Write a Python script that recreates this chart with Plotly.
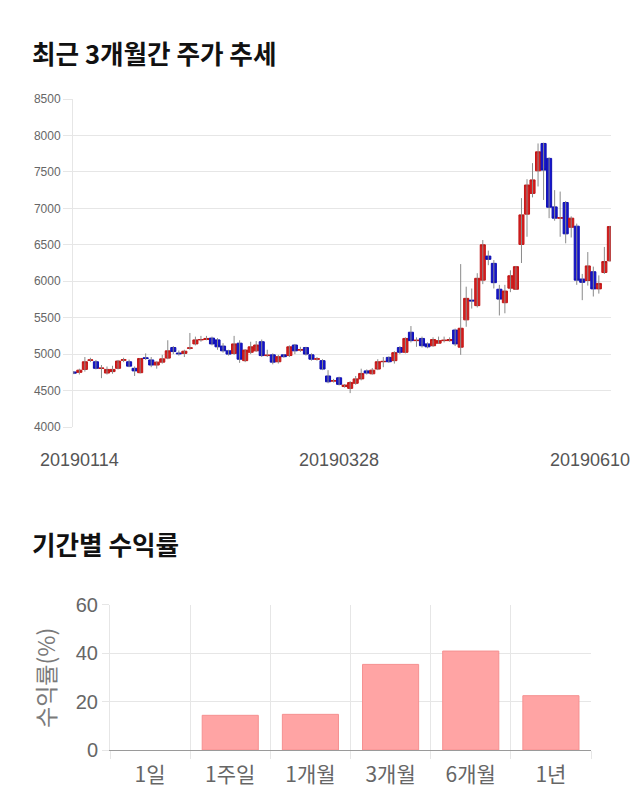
import plotly.graph_objects as go

# ---------------- data ----------------
TICK_LABELS = ["20190114", "20190328", "20190610"]
TICK_INDEX = [0, 48, 97]

OPEN = [4755, 4750, 4790, 4915, 4895, 4803, 4740, 4760, 4805, 4917, 4895, 4805, 4745, 4950, 4920, 4850, 4890, 4945, 5090, 5015,
        5010, 5080, 5140, 5195, 5200, 5220, 5195, 5110, 5045, 5010, 5150, 4910, 5025, 5045, 5170, 4980, 4990, 4895, 4990, 4980,
        5125, 5055, 5090, 4990, 4930, 4910, 4700, 4630, 4675, 4555, 4530, 4600, 4660, 4770, 4730, 4795, 4895, 4955, 4910, 5090,
        5025, 5300, 5185, 5215, 5140, 5115, 5150, 5185, 5185, 5330, 5095, 5470, 5740, 5665, 6015, 6345, 6245, 5890, 5705, 5905,
        5890, 6505, 6920, 7205, 7515, 7890, 7685, 7020, 6865, 7080, 6740, 6755, 6030, 6010, 6130, 5895, 6120, 6280]
CLOSE = [4740, 4780, 4895, 4920, 4805, 4808, 4790, 4790, 4905, 4922, 4835, 4770, 4940, 4940, 4850, 4890, 4935, 5045, 5035, 5005,
         5040, 5085, 5195, 5200, 5215, 5140, 5100, 5045, 5000, 5140, 4930, 5055, 5100, 5125, 4980, 4985, 4890, 4965, 4965, 5100,
         5045, 5060, 5000, 4930, 4935, 4795, 4620, 4635, 4585, 4575, 4610, 4660, 4735, 4740, 4780, 4895, 4900, 4895, 5020, 5025,
         5215, 5185, 5190, 5115, 5100, 5200, 5185, 5190, 5200, 5140, 5355, 5765, 5730, 6040, 6500, 6300, 5980, 5755, 5865, 6075,
         6200, 6910, 7320, 7390, 7775, 7525, 7015, 6865, 6870, 6650, 6865, 6015, 5985, 6210, 5895, 5970, 6270, 6750]
HIGH = [4765, 4800, 4960, 4950, 4920, 4850, 4830, 4840, 4920, 4950, 4925, 4830, 4945, 5010, 4960, 4900, 4990, 5190, 5110, 5050,
        5060, 5290, 5240, 5250, 5250, 5240, 5220, 5150, 5060, 5250, 5190, 5070, 5170, 5180, 5200, 5060, 5010, 4990, 5000, 5120,
        5140, 5100, 5100, 5010, 4960, 4930, 4780, 4660, 4690, 4590, 4630, 4700, 4800, 4790, 4810, 4930, 4960, 4970, 5040, 5110,
        5230, 5385, 5230, 5240, 5160, 5230, 5240, 5240, 5230, 5350, 6235, 5925, 5900, 6110, 6565, 6420, 6290, 5950, 5950, 6150,
        6210, 7140, 7400, 7620, 7890, 7900, 7700, 7250, 7230, 7100, 6890, 6790, 6100, 6400, 6200, 6080, 6470, 6760]
LOW = [4725, 4720, 4760, 4890, 4790, 4670, 4720, 4730, 4790, 4890, 4820, 4700, 4735, 4920, 4820, 4800, 4870, 4930, 5000, 4980,
       4960, 5060, 5120, 5170, 5190, 5120, 5060, 5020, 4980, 4990, 4880, 4890, 5000, 5030, 4960, 4960, 4860, 4870, 4950, 4960,
       5000, 5030, 4980, 4910, 4910, 4780, 4600, 4610, 4570, 4540, 4465, 4580, 4640, 4720, 4720, 4780, 4820, 4880, 4870, 5000,
       5010, 5160, 5100, 5090, 5080, 5100, 5140, 5160, 5170, 5110, 4990, 5375, 5625, 5640, 5960, 6220, 5900, 5530, 5560, 5850,
       5880, 6250, 6610, 7150, 7300, 7115, 6865, 6830, 6610, 6520, 6600, 5950, 5740, 5940, 5790, 5830, 6100, 6270]

PERIODS = ["1일", "1주일", "1개월", "3개월", "6개월", "1년"]
RETURNS = [0.0, 14.3, 14.7, 35.3, 40.8, 22.4]

# ---------------- styling ----------------
W, H = 640, 810
RED_FILL, RED_LINE = "#d81e1e", "#c01616"
BLUE_FILL, BLUE_LINE = "#1616cc", "#1010b0"
WICK = "#8a8a8a"
GRID = "#e6e6e6"
FONT = "Liberation Sans, Arial, Noto Sans CJK KR, sans-serif"
KFONT = "Noto Sans CJK KR, sans-serif"


def px_x(p):
    return p / W


def px_y(p):
    return 1 - p / H


idx = list(range(len(OPEN)))

# wicks
wx, wy = [], []
for i, (h, l) in enumerate(zip(HIGH, LOW)):
    wx += [i, i, None]
    wy += [l, h, None]

fig = go.Figure()
fig.add_trace(go.Scatter(x=wx, y=wy, mode="lines", line=dict(color=WICK, width=1),
                         hoverinfo="skip", showlegend=False, xaxis="x", yaxis="y"))
fig.add_trace(go.Candlestick(
    x=idx, open=OPEN, close=CLOSE,
    high=[max(o, c) for o, c in zip(OPEN, CLOSE)],
    low=[min(o, c) for o, c in zip(OPEN, CLOSE)],
    increasing=dict(fillcolor=RED_FILL, line=dict(color=RED_LINE, width=1)),
    decreasing=dict(fillcolor=BLUE_FILL, line=dict(color=BLUE_LINE, width=1)),
    whiskerwidth=0, showlegend=False, xaxis="x", yaxis="y"))

fig.add_trace(go.Bar(x=PERIODS, y=RETURNS, width=0.7,
                     marker=dict(color="#ffa4a4",
                                 line=dict(color="#f59090", width=[0 if r == 0 else 1 for r in RETURNS])),
                     showlegend=False, xaxis="x2", yaxis="y2"))

annotations = [
    dict(text="<b>최근 3개월간 주가 추세</b>", x=px_x(30), y=px_y(52), xref="paper", yref="paper",
         xanchor="left", yanchor="middle", showarrow=False, font=dict(family=KFONT, size=25.6, color="#111111")),
    dict(text="<b>기간별 수익률</b>", x=px_x(30), y=px_y(543), xref="paper", yref="paper",
         xanchor="left", yanchor="middle", showarrow=False, font=dict(family=KFONT, size=25.6, color="#111111")),
    dict(text="수익률(%)", x=px_x(45), y=px_y(678), xref="paper", yref="paper", textangle=-90,
         xanchor="center", yanchor="middle", showarrow=False, font=dict(family=KFONT, size=23, color="#7a7a7a")),
]
shifts = [6, 0, -20]
for t, lab, s in zip(TICK_INDEX, TICK_LABELS, shifts):
    annotations.append(dict(text=lab, x=t, y=px_y(460), xref="x", yref="paper", xshift=s,
                            xanchor="center", yanchor="middle", showarrow=False,
                            font=dict(family=FONT, size=18, color="#555555")))

fig.update_layout(
    width=W, height=H, margin=dict(l=0, r=0, t=0, b=0, pad=0, autoexpand=False),
    paper_bgcolor="white", plot_bgcolor="white",
    boxgap=0.08, boxgroupgap=0.0,
    annotations=annotations,
    xaxis=dict(domain=[px_x(73), px_x(611)], range=[-0.15, len(OPEN) - 0.8], automargin=False,
               showgrid=False, zeroline=False, showline=False, showticklabels=False,
               rangeslider=dict(visible=False), fixedrange=True),
    yaxis=dict(domain=[px_y(427), px_y(99)], range=[4000, 8500], dtick=500, automargin=False,
               showgrid=True, gridcolor=GRID, gridwidth=1, zeroline=False,
               showline=True, linecolor=GRID, linewidth=1,
               ticks="outside", ticklen=9, tickcolor=GRID,
               tickfont=dict(family=FONT, size=12, color="#666666")),
    xaxis2=dict(domain=[px_x(110), px_x(591)], anchor="y2", type="category", automargin=False,
                tickson="boundaries", showgrid=True, gridcolor=GRID,
                ticks="outside", ticklen=8, tickcolor=GRID, ticklabelstandoff=6,
                showline=True, linecolor="#9a9a9a", linewidth=1, zeroline=False,
                tickfont=dict(family=KFONT, size=21, color="#666666")),
    yaxis2=dict(domain=[px_y(750), px_y(604.5)], anchor="x2", range=[0, 60], dtick=20, automargin=False,
                showgrid=True, gridcolor=GRID, zeroline=False,
                showline=True, linecolor=GRID, linewidth=1,
                ticks="outside", ticklen=7, tickcolor=GRID,
                tickfont=dict(family=FONT, size=20, color="#666666")),
)

fig.write_html("out.html")
